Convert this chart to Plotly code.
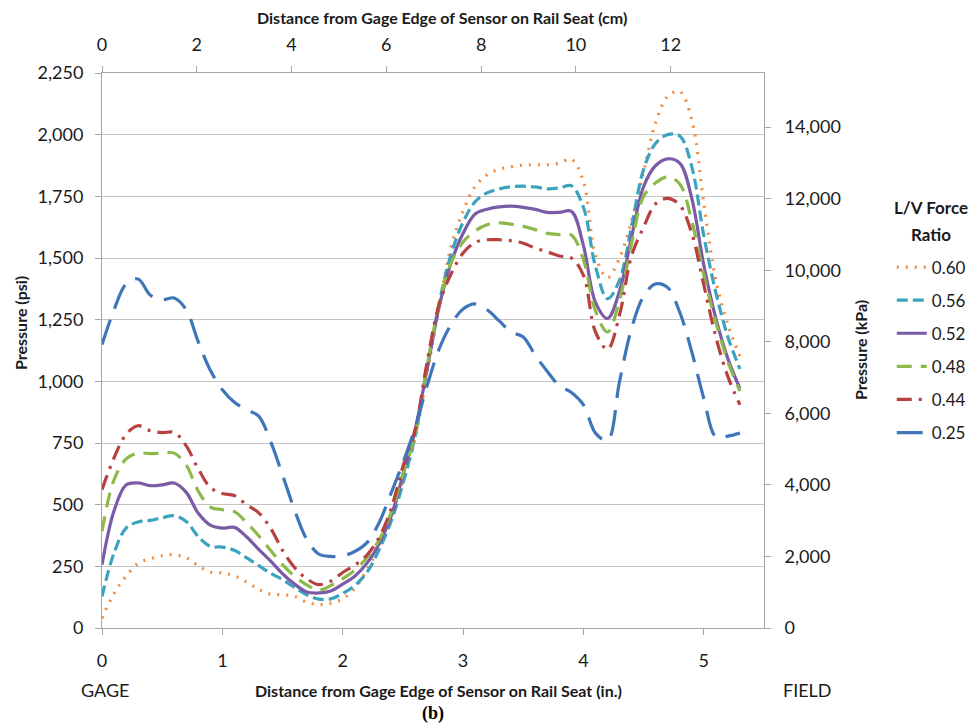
import plotly.graph_objects as go

# Distance from gage edge (in.)
distance_in = [0.0, 0.1, 0.2, 0.3, 0.4, 0.5, 0.6, 0.7, 0.8, 0.9,
               1.0, 1.1, 1.2, 1.3, 1.4, 1.5, 1.6, 1.7, 1.8, 1.9,
               2.0, 2.1, 2.2, 2.3, 2.4, 2.5, 2.6, 2.7, 2.8, 2.9,
               3.0, 3.1, 3.2, 3.3, 3.4, 3.5, 3.6, 3.7, 3.8, 3.9,
               4.0, 4.1, 4.2, 4.3, 4.4, 4.5, 4.6, 4.7, 4.8, 4.9,
               5.0, 5.1, 5.2, 5.3]

p060 = [40, 140, 210, 262, 280, 293, 297, 285, 252, 227,
        223, 212, 187, 157, 137, 135, 128, 105, 95, 101,
        118, 160, 235, 330, 450, 595, 765, 1030, 1300, 1545,
        1690, 1790, 1838, 1860, 1870, 1877, 1878, 1878, 1885, 1900,
        1810, 1510, 1420, 1500, 1650, 1850, 2050, 2155, 2175, 2060,
        1720, 1410, 1230, 1100]

p056 = [128, 304, 405, 430, 436, 447, 455, 432, 370, 331,
        328, 315, 285, 254, 222, 196, 164, 135, 117, 118,
        140, 172, 225, 315, 430, 585, 775, 1050, 1315, 1515,
        1645, 1728, 1764, 1780, 1789, 1791, 1788, 1780, 1784, 1793,
        1705, 1465, 1335, 1410, 1630, 1860, 1965, 2000, 1995, 1870,
        1590, 1360, 1180, 1050]

p052 = [257, 475, 580, 588, 577, 580, 588, 550, 465, 417,
        405, 408, 370, 320, 272, 220, 178, 146, 142, 150,
        178, 210, 262, 340, 450, 620, 800, 1047, 1300, 1480,
        1600, 1678, 1698, 1707, 1710, 1705, 1697, 1685, 1685, 1689,
        1550, 1320, 1255, 1366, 1585, 1790, 1875, 1902, 1885, 1742,
        1470, 1255, 1092, 970]

p048 = [392, 601, 685, 709, 707, 708, 709, 660, 555, 490,
        480, 472, 428, 375, 315, 257, 210, 175, 153, 172,
        200, 235, 285, 355, 465, 625, 780, 1060, 1310, 1480,
        1565, 1610, 1635, 1642, 1637, 1628, 1615, 1600, 1595, 1593,
        1493, 1285, 1200, 1330, 1560, 1750, 1805, 1828, 1800, 1650,
        1430, 1240, 1080, 960]

p044 = [561, 690, 785, 820, 800, 792, 793, 738, 645, 570,
        545, 537, 500, 468, 405, 315, 245, 200, 176, 190,
        225, 255, 295, 365, 480, 655, 800, 1075, 1310, 1435,
        1520, 1563, 1574, 1574, 1570, 1560, 1540, 1525, 1508, 1500,
        1430, 1200, 1130, 1270, 1510, 1625, 1720, 1742, 1715, 1600,
        1390, 1180, 1019, 905]

p025 = [1149, 1290, 1395, 1415, 1350, 1331, 1338, 1290, 1160, 1045,
        966, 915, 885, 860, 757, 620, 478, 360, 300, 290,
        293, 310, 345, 425, 545, 670, 810, 980, 1130, 1230,
        1293, 1314, 1290, 1245, 1200, 1180, 1105, 1040, 982, 955,
        905, 790, 760, 1000, 1215, 1345, 1395, 1380, 1280, 1120,
        930, 775, 778, 790]

series_names = ["0.60", "0.56", "0.52", "0.48", "0.44", "0.25"]
series_values = [p060, p056, p052, p048, p044, p025]
series_colors = ["#F08A3C", "#3AA3C0", "#7A5BA6", "#8DB84A", "#B8413F", "#3F76B9"]
series_dash = ["2px,7px", "11px,5px", "solid", "15px,9px", "15px,7px,3px,7px", "26px,12px"]

psi_ticks = [0, 250, 500, 750, 1000, 1250, 1500, 1750, 2000, 2250]
kpa_ticks = [0, 2000, 4000, 6000, 8000, 10000, 12000, 14000]
cm_ticks = [0, 2, 4, 6, 8, 10, 12]
in_ticks = [0, 1, 2, 3, 4, 5]

PSI_MAX = 2250
X_MAX_IN = 5.5
KPA_PER_PSI = 6.894757
CM_PER_IN = 2.54

FONT = "Lato"
AX_LINE = "#A6A6A6"
GRID = "#C4C4C4"

fig = go.Figure()
for name, vals, col, dash in zip(series_names, series_values, series_colors, series_dash):
    fig.add_trace(go.Scatter(
        x=distance_in, y=vals, name=name, mode="lines",
        line=dict(color=col, width=3.2, dash=dash, shape="spline", smoothing=1.0),
        legendgroup=name,
    ))

# Same data in metric units on the secondary (cm / kPa) axes, drawn invisibly
# so that the top and right axes are rendered.
fig.add_trace(go.Scatter(
    x=[d * CM_PER_IN for d in distance_in], y=[v * KPA_PER_PSI for v in p060],
    xaxis="x2", yaxis="y2", mode="lines", line=dict(width=0, color="rgba(0,0,0,0)"),
    showlegend=False, hoverinfo="skip",
))

fig.update_layout(
    width=974, height=727,
    margin=dict(l=102, r=210, t=73, b=99, autoexpand=False),
    paper_bgcolor="white", plot_bgcolor="white",
    font=dict(family=FONT, size=18, color="#1a1a1a"),
    showlegend=True,
    legend=dict(
        x=1.193, y=0.682, xanchor="left", yanchor="top",
        font=dict(family=FONT, size=17),
        tracegroupgap=8,
        bgcolor="rgba(0,0,0,0)",
    ),
    xaxis=dict(
        range=[0, X_MAX_IN], tickvals=in_ticks, showgrid=False, zeroline=False,
        showline=True, linecolor=AX_LINE, linewidth=1,
        ticks="outside", ticklen=6, tickcolor=AX_LINE, ticklabelstandoff=10,
        tickfont=dict(size=18),
    ),
    xaxis2=dict(
        range=[0, X_MAX_IN * CM_PER_IN], tickvals=cm_ticks, overlaying="x", side="top",
        showgrid=False, zeroline=False, showline=True, linecolor=AX_LINE, linewidth=1,
        ticks="outside", ticklen=6, tickcolor=AX_LINE, ticklabelstandoff=8,
        tickfont=dict(size=18), anchor="y2",
    ),
    yaxis=dict(
        range=[0, PSI_MAX], tickvals=psi_ticks, tickformat=",", showgrid=True,
        gridcolor=GRID, gridwidth=1, zeroline=False,
        showline=True, linecolor=AX_LINE, linewidth=1,
        ticks="outside", ticklen=6, tickcolor=AX_LINE, ticklabelstandoff=8,
        tickfont=dict(size=18),
    ),
    yaxis2=dict(
        range=[0, PSI_MAX * KPA_PER_PSI], tickvals=kpa_ticks, tickformat=",",
        overlaying="y", side="right", showgrid=False, zeroline=False,
        showline=True, linecolor=AX_LINE, linewidth=1,
        ticks="outside", ticklen=6, tickcolor=AX_LINE, ticklabelstandoff=10,
        tickfont=dict(size=18), anchor="x2",
    ),
)

ann = [
    dict(text="<b>Distance from Gage Edge of Sensor on Rail Seat (cm)</b>",
         x=442, y=727 - 18, size=16, angle=0),
    dict(text="<b>Distance from Gage Edge of Sensor on Rail Seat (in.)</b>",
         x=438, y=727 - 690, size=16, angle=0),
    dict(text="<b>Pressure (psi)</b>", x=20, y=727 - 323, size=16, angle=-90),
    dict(text="<b>Pressure (kPa)</b>", x=860, y=727 - 350, size=16, angle=-90),
    dict(text="<b>L/V Force</b>", x=931, y=727 - 208, size=17, angle=0),
    dict(text="<b>Ratio</b>", x=931, y=727 - 234, size=17, angle=0),
]
for a in ann:
    fig.add_annotation(
        text=a["text"], xref="paper", yref="paper",
        x=(a["x"] - 102) / 662, y=(a["y"] - 99) / 555,
        xanchor="center", yanchor="middle", showarrow=False, textangle=a["angle"],
        font=dict(family=FONT, size=a["size"], color="#1a1a1a"),
    )

for txt, px in [("GAGE", 105), ("FIELD", 808)]:
    fig.add_annotation(
        text=txt, xref="paper", yref="paper",
        x=(px - 102) / 662, y=(727 - 690 - 99) / 555,
        xanchor="center", yanchor="middle", showarrow=False,
        font=dict(family=FONT, size=18, color="#1a1a1a"),
    )

fig.add_annotation(
    text="<b>(b)</b>", xref="paper", yref="paper",
    x=(433 - 102) / 662, y=(727 - 713 - 99) / 555,
    xanchor="center", yanchor="middle", showarrow=False,
    font=dict(family="Liberation Serif", size=18, color="#000000"),
)

fig.write_html("out.html")
